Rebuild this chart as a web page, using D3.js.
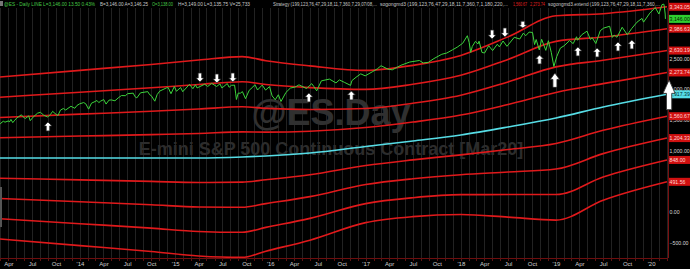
<!DOCTYPE html>
<html>
<head>
<meta charset="utf-8">
<script src="https://cdn.jsdelivr.net/npm/d3@7"></script>
<style>
  body { margin: 0; background: #000; }
  svg { display: block; font-family: "Liberation Sans", Arial, sans-serif; }
</style>
</head>
<body>
<svg id="chart" width="690" height="269"></svg>
<script>
// ---- data ----
const priceDates = [
  "2013-02-28","2013-03-08","2013-03-14","2013-03-19","2013-04-02","2013-04-05","2013-04-11","2013-04-18","2013-04-26","2013-05-03",
  "2013-05-21","2013-05-24","2013-06-05","2013-06-18","2013-06-24","2013-07-05","2013-07-22","2013-08-02","2013-08-15","2013-08-30",
  "2013-09-09","2013-09-18","2013-09-27","2013-10-08","2013-10-18","2013-10-29","2013-11-07","2013-11-27","2013-12-12","2013-12-20",
  "2013-12-31","2014-01-15","2014-01-23","2014-02-03","2014-02-14","2014-02-28","2014-03-07","2014-03-14","2014-03-21","2014-04-02",
  "2014-04-11","2014-04-22","2014-05-01","2014-05-15","2014-05-30","2014-06-09","2014-06-24","2014-07-03","2014-07-24","2014-07-31",
  "2014-08-07","2014-08-21","2014-09-18","2014-09-25","2014-10-01","2014-10-15","2014-10-24","2014-11-03","2014-11-28","2014-12-05",
  "2014-12-16","2014-12-29","2015-01-06","2015-01-22","2015-01-30","2015-02-25","2015-03-10","2015-03-20","2015-03-26","2015-04-14",
  "2015-04-24","2015-05-06","2015-05-21","2015-06-09","2015-06-22","2015-06-29","2015-07-07","2015-07-20","2015-07-27","2015-08-05",
  "2015-08-17","2015-08-21","2015-08-24","2015-08-31","2015-09-08","2015-09-16","2015-09-28","2015-10-12","2015-10-26","2015-11-03",
  "2015-11-13","2015-12-01","2015-12-14","2015-12-29","2016-01-08","2016-01-20","2016-02-01","2016-02-11","2016-03-01","2016-03-18",
  "2016-04-06","2016-04-20","2016-05-19","2016-06-08","2016-06-16","2016-06-27","2016-07-15","2016-08-15","2016-09-09","2016-09-22",
  "2016-10-11","2016-11-04","2016-11-09","2016-11-25","2016-12-13","2016-12-30","2017-01-26","2017-02-15","2017-03-01","2017-03-27",
  "2017-04-13","2017-05-16","2017-06-19","2017-07-26","2017-08-10","2017-08-29","2017-09-20","2017-10-20","2017-11-08","2017-11-30",
  "2017-12-18","2018-01-08","2018-01-26","2018-02-02","2018-02-08","2018-02-14","2018-02-26","2018-03-08","2018-03-12","2018-03-23",
  "2018-04-02","2018-04-18","2018-05-03","2018-05-21","2018-05-29","2018-06-12","2018-06-27","2018-07-25","2018-08-15","2018-08-29",
  "2018-09-07","2018-09-20","2018-10-03","2018-10-11","2018-10-17","2018-10-29","2018-11-07","2018-11-23","2018-12-03","2018-12-14",
  "2018-12-24","2019-01-04","2019-01-18","2019-02-01","2019-02-22","2019-03-08","2019-03-21","2019-03-25","2019-04-10","2019-04-30",
  "2019-05-13","2019-05-20","2019-06-03","2019-06-20","2019-07-03","2019-07-26","2019-08-05","2019-08-12","2019-08-23","2019-09-12",
  "2019-10-02","2019-10-18","2019-11-08","2019-11-27","2019-12-03","2019-12-27","2020-01-17","2020-01-31","2020-02-12","2020-02-19",
  "2020-02-21","2020-02-24","2020-02-25"
];
const priceValues = [
  1430,1466,1478,1463,1485,1465,1508,1456,1497,1530,
  1584,1565,1523,1566,1488,1546,1610,1624,1576,1548,
  1586,1640,1606,1570,1660,1686,1662,1722,1690,1735,
  1763,1783,1763,1676,1773,1800,1817,1782,1806,1832,
  1758,1822,1826,1812,1867,1897,1895,1928,1936,1878,
  1859,1942,1961,1911,1897,1805,1914,1970,2021,2029,
  1927,2045,1967,2028,1960,2079,2009,2073,2021,2060,
  2082,2045,2096,2045,2087,2022,2046,2093,2032,2064,
  2067,1936,1833,1937,1935,1961,1846,1982,2036,2074,
  1988,2068,1986,2043,1892,1829,1910,1800,1948,2019,
  2037,2072,2012,2091,2045,1974,2137,2165,2103,2152,
  2113,2063,2140,2195,2251,2218,2283,2334,2383,2328,
  2316,2390,2443,2468,2428,2438,2500,2570,2590,2642,
  2685,2748,2872,2762,2600,2698,2780,2738,2783,2600,
  2590,2708,2630,2733,2690,2786,2699,2846,2818,2914,
  2872,2931,2925,2728,2810,2641,2814,2633,2790,2600,
  2370,2532,2671,2707,2792,2743,2855,2798,2888,2946,
  2812,2840,2745,2954,2996,3026,2844,2883,2847,3010,
  2887,2986,3093,3154,3093,3240,3330,3225,3379,3386,
  3337,3225,3146
];

// channel: centre line and one band step, read at these dates
const bandDates = ["2013-02-28","2014-01-01","2014-10-01","2015-04-01","2015-09-15","2015-12-15","2016-06-01",
                   "2017-01-01","2017-07-01","2018-01-01","2018-07-01","2019-01-01","2019-07-01","2020-03-02"];
const centerValues = [880, 880, 880, 880, 896, 913, 961, 1067, 1157, 1255, 1385, 1532, 1711, 1917.39];
const bandSteps = [330, 357, 381, 399, 409, 388, 355, 310, 308, 324, 367, 416, 380, 356.4];
const bandMultipliers = [4, 3, 2, 1, -1, -2, -3, -4];

// last values shown on the price scale
const lastLabels = [3343.05, 2986.63, 2630.19, 2273.74, 1560.67, 1204.33, 848.00, 491.56];
const centerLabel = 1917.39;
const lastPrice = 3146.00;
const priceTicks = [-500, 0, 500, 1000, 1500, 2000, 2500, 3000];

// signal arrows
const arrowDates = ["2013-08-31","2016-05-28","2016-11-07","2018-10-30","2018-12-28","2019-03-26","2019-06-08",
                    "2019-08-27","2019-10-19","2020-03-10","2015-04-06","2015-06-10","2015-08-10","2018-05-01",
                    "2018-06-19","2018-08-27"];
const arrowDirs = ["up","up","up","up","up","up","up","up","up","up","down","down","down","down","down","down"];
const arrowLevels = [1467, 1939, 1972, 2558, 2265, 2689, 2672, 2770, 2803, 2151, 2118, 2102, 2118, 2819, 2852, 2998];

const headerParts = [
  "@ES - Daily  LINE  L=3,146.00  13.50  0.43%",
  "B=3,146.00  A=3,146.25",
  "O=3,138.00",
  "H=3,149.00  L=3,135.75  V=25,733",
  "Strategy (199,123,76,47,29,18,11,7,360,7,29,07/08,...",
  "sogongmd3 (199,123,76,47,29,18,11,7,360,7,1,180,220,...",
  "1,560.67",
  "2,273.74",
  "sogongmd3.extend (199,123,76,47,29,18,11,7,360,..."
];

// ---- drawing ----
const svg = d3.select("#chart");
const W = 690, H = 269;
const plotRight = 668, plotBottom = 258;
const parse = d3.timeParse("%Y-%m-%d");

const x = d3.scaleTime()
  .domain([parse("2013-02-28"), parse("2020-03-02")])
  .range([0, 667]);
const y = d3.scaleLinear()
  .domain([0, 3343.05])
  .range([212, 6.8]);

svg.append("rect").attr("width", W).attr("height", H).attr("fill", "#000");

// monthly grid
const months = d3.timeMonth.range(parse("2013-03-01"), parse("2020-03-02"));
svg.append("g")
  .selectAll("line")
  .data(months)
  .enter()
  .append("line")
  .attr("x1", d => Math.round(x(d)) + 0.5)
  .attr("x2", d => Math.round(x(d)) + 0.5)
  .attr("y1", 8)
  .attr("y2", plotBottom)
  .attr("stroke", "#222")
  .attr("stroke-width", 1);

// watermark
svg.append("text")
  .attr("x", 331).attr("y", 125)
  .attr("text-anchor", "middle")
  .attr("font-size", 36).attr("font-weight", "bold")
  .attr("fill", "#303030")
  .text("@ES.Day");
svg.append("text")
  .attr("x", 331).attr("y", 155)
  .attr("text-anchor", "middle")
  .attr("font-size", 18).attr("font-weight", "bold")
  .attr("fill", "#2c2c2c")
  .text("E-mini S&P 500 Continuous Contract [Mar20]");

// channel lines
const bandLine = d3.line()
  .x(d => x(d[0]))
  .y(d => y(d[1]))
  .curve(d3.curveMonotoneX);

const bandData = bandMultipliers.map(k =>
  bandDates.map((d, i) => [parse(d), centerValues[i] + k * bandSteps[i]])
);

svg.append("g")
  .selectAll("path")
  .data(bandData)
  .enter()
  .append("path")
  .attr("d", bandLine)
  .attr("fill", "none")
  .attr("stroke", "#e0191b")
  .attr("stroke-width", 1.6);

svg.append("path")
  .datum(bandDates.map((d, i) => [parse(d), centerValues[i]]))
  .attr("d", bandLine)
  .attr("fill", "none")
  .attr("stroke", "#56dde6")
  .attr("stroke-width", 1.6);

// price line
const priceLine = d3.line()
  .x(d => x(d[0]))
  .y(d => y(d[1]));

svg.append("path")
  .datum(priceDates.map((d, i) => [parse(d), priceValues[i]]))
  .attr("d", priceLine)
  .attr("fill", "none")
  .attr("stroke", "#3bd43b")
  .attr("stroke-width", 1);

// arrows
const arrowScale = [1, 1, 1, 1, 1.15, 1, 1, 1, 1, 1.5, 1, 1, 1, 1, 1, 1.1];
const arrowStretch = [1, 1, 1, 1, 1.6, 1, 1, 1, 1, 3.3, 1, 1, 1, 1, 1, 0.75];
function arrowPath(w, h) {
  const s = w * 0.22;
  return `M0,0L${w / 2},${h * 0.45}L${s},${h * 0.45}L${s},${h}L${-s},${h}L${-s},${h * 0.45}L${-w / 2},${h * 0.45}Z`;
}
svg.append("g")
  .selectAll("path")
  .data(arrowDates.map((d, i) => i))
  .enter()
  .append("path")
  .attr("d", i => arrowPath(8 * arrowScale[i], 9 * arrowStretch[i]))
  .attr("transform", i => {
    const px = x(parse(arrowDates[i])), py = y(arrowLevels[i]);
    return arrowDirs[i] === "up" ? `translate(${px},${py})` : `translate(${px},${py}) scale(1,-1)`;
  })
  .attr("fill", "#fff")
  .attr("stroke", "#222")
  .attr("stroke-width", 0.8);

// frame
svg.append("line")
  .attr("x1", 0).attr("x2", plotRight)
  .attr("y1", plotBottom + 0.5).attr("y2", plotBottom + 0.5)
  .attr("stroke", "#6e0e0e");
svg.append("line")
  .attr("x1", plotRight + 0.5).attr("x2", plotRight + 0.5)
  .attr("y1", 0).attr("y2", plotBottom)
  .attr("stroke", "#7a1010");
svg.append("rect")
  .attr("x", 0).attr("y", 187).attr("width", 2).attr("height", 40)
  .attr("fill", "#555");

// time axis
const xAxis = d3.axisBottom(x)
  .tickValues(months.filter(d => d.getMonth() % 3 === 0))
  .tickSize(0)
  .tickPadding(3)
  .tickFormat(d => d.getMonth() === 0 ? d3.timeFormat("'%y")(d) : d3.timeFormat("%b")(d));
const gx = svg.append("g")
  .attr("transform", `translate(0,${plotBottom + 1})`)
  .call(xAxis);
gx.select(".domain").remove();
gx.selectAll("text")
  .attr("font-size", 6)
  .attr("fill", "#cfcfcf")
  .attr("font-family", "Liberation Sans, Arial, sans-serif");

svg.append("g")
  .selectAll("line")
  .data(months)
  .enter()
  .append("line")
  .attr("x1", d => Math.round(x(d)) + 0.5)
  .attr("x2", d => Math.round(x(d)) + 0.5)
  .attr("y1", plotBottom)
  .attr("y2", plotBottom + 3)
  .attr("stroke", "#5e1212");

// price scale
const yAxis = d3.axisRight(y)
  .tickValues(priceTicks)
  .tickSize(0)
  .tickPadding(1.5)
  .tickFormat(d3.format(",.2f"));
const gy = svg.append("g")
  .attr("transform", `translate(${plotRight},0)`)
  .call(yAxis);
gy.select(".domain").remove();
gy.selectAll("text")
  .attr("font-size", 5.2)
  .attr("fill", "#d8d8d8")
  .attr("font-family", "Liberation Sans, Arial, sans-serif");

function valueBox(v, fill, color) {
  const g = svg.append("g").attr("transform", `translate(${plotRight + 1},${y(v)})`);
  g.append("rect")
    .attr("x", 0).attr("y", -4)
    .attr("width", 22).attr("height", 8)
    .attr("fill", fill);
  g.append("text")
    .attr("x", 0.6).attr("y", 1.9)
    .attr("font-size", 5.2)
    .attr("fill", color)
    .text(d3.format(",.2f")(v));
}
lastLabels.forEach(v => valueBox(v, "#d01010", "#ffd6d6"));
valueBox(centerLabel, "#56dde6", "#002a2e");
valueBox(lastPrice, "#2fcf2f", "#002000");

// big signal arrow sits over the scale edge, redraw on top
const bi = 9;
svg.append("path")
  .attr("d", arrowPath(8 * arrowScale[bi], 9 * arrowStretch[bi]))
  .attr("transform", `translate(${x(parse(arrowDates[bi]))},${y(arrowLevels[bi])})`)
  .attr("fill", "#fff")
  .attr("stroke", "#222")
  .attr("stroke-width", 0.8);

// header strip
const headerX = [4, 100, 152, 178, 273, 380, 513, 530, 548];
const headerEnd = [95, 148, 173, 250, 377, 508, 527, 545, 660];
const headerColor = ["#46c846", "#c8c8c8", "#46c846", "#c8c8c8", "#c8c8c8", "#c8c8c8", "#e02020", "#e02020", "#c8c8c8"];
svg.append("rect").attr("x", 0).attr("y", 1).attr("width", 3).attr("height", 5).attr("fill", "#777");
svg.append("g")
  .selectAll("text")
  .data(headerParts)
  .enter()
  .append("text")
  .attr("x", (d, i) => headerX[i])
  .attr("y", 6)
  .attr("font-size", 5.5)
  .attr("fill", (d, i) => headerColor[i])
  .attr("textLength", (d, i) => headerEnd[i] - headerX[i])
  .attr("lengthAdjust", "spacingAndGlyphs")
  .text(d => d);
</script>
</body>
</html>
